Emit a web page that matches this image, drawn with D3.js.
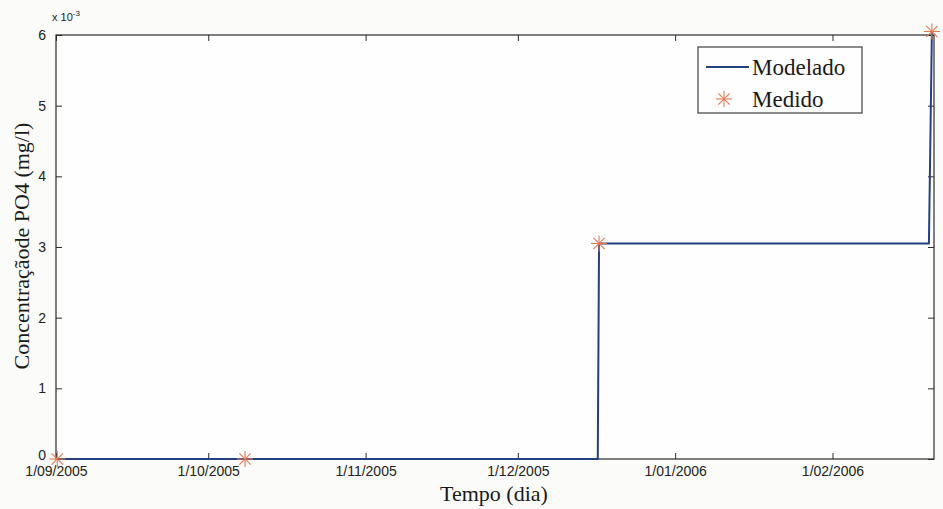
<!DOCTYPE html>
<html>
<head>
<meta charset="utf-8">
<script src="https://cdn.jsdelivr.net/npm/d3@7"></script>
<style>
  html, body { margin: 0; padding: 0; background: #fbfbf9; }
  svg { display: block; }
</style>
</head>
<body>
<svg id="chart" width="943" height="509"></svg>
<script>
// Modelled PO4 concentration (step series), mg/l
const modelDates  = ["2005-09-01T00:00", "2005-12-16T18:00", "2005-12-17T00:00", "2006-02-20T00:00", "2006-02-20T14:00"];
const modelValues = [0, 0, 3.05e-3, 3.05e-3, 6.05e-3];

// Measured PO4 concentration, mg/l
const measuredDates  = ["2005-09-01T06:00", "2005-10-08T06:00", "2005-12-17T00:00", "2006-02-20T14:00"];
const measuredValues = [0, 0, 3.05e-3, 6.05e-3];

// Axis ticks
const xTickDates  = ["2005-09-01", "2005-10-01", "2005-11-01", "2005-12-01", "2006-01-01", "2006-02-01"];
const xTickLabels = ["1/09/2005", "1/10/2005", "1/11/2005", "1/12/2005", "1/01/2006", "1/02/2006"];
const yTicks = [0, 1e-3, 2e-3, 3e-3, 4e-3, 5e-3, 6e-3];

const parse = d3.isoParse;
const svg = d3.select("#chart");

const plotLeft = 56, plotRight = 934, plotTop = 35, plotBottom = 459;

const x = d3.scaleTime()
  .domain([parse("2005-09-01T00:00"), parse("2006-02-21T00:00")])
  .range([plotLeft, plotRight]);
const y = d3.scaleLinear().domain([0, 6e-3]).range([plotBottom, plotTop]);

const axisColor = "#2b2b2b";
const modelColor = "#25407e";
const markColor = "#e27a55";

// Plot box
svg.append("rect")
  .attr("x", plotLeft).attr("y", plotTop)
  .attr("width", plotRight - plotLeft).attr("height", plotBottom - plotTop)
  .attr("fill", "#fefefe").attr("stroke", axisColor).attr("stroke-width", 1.2);

const tickFont = "'Liberation Sans', Arial, sans-serif";
const serif = "'Liberation Serif', 'Times New Roman', serif";

// Bottom axis (inward ticks)
const xAxis = d3.axisBottom(x)
  .tickValues(xTickDates.map(parse))
  .tickFormat((d, i) => xTickLabels[i])
  .tickSizeInner(-6).tickSizeOuter(0).tickPadding(7);
const gx = svg.append("g").attr("transform", `translate(0,${plotBottom})`).call(xAxis);
gx.select(".domain").remove();
gx.selectAll("line").attr("stroke", axisColor);
gx.selectAll("text").attr("font-family", tickFont).attr("font-size", 14).attr("fill", "#222");

// Top mirrored ticks
const gxt = svg.append("g").attr("transform", `translate(0,${plotTop})`)
  .call(d3.axisTop(x).tickValues(xTickDates.map(parse)).tickFormat("").tickSizeInner(-6).tickSizeOuter(0));
gxt.select(".domain").remove();
gxt.selectAll("line").attr("stroke", axisColor);

// Left axis
const yAxis = d3.axisLeft(y).tickValues(yTicks)
  .tickFormat(d => d3.format("d")(Math.round(d * 1000)))
  .tickSizeInner(-6).tickSizeOuter(0).tickPadding(10);
const gy = svg.append("g").attr("transform", `translate(${plotLeft},0)`).call(yAxis);
gy.select(".domain").remove();
gy.selectAll("line").attr("stroke", axisColor);
gy.selectAll("text").attr("font-family", tickFont).attr("font-size", 14).attr("fill", "#222");
// lift the zero label a touch so it clears the first date label
gy.selectAll("text").filter(d => d === 0).attr("dy", "0.05em");

// Right mirrored ticks
const gyr = svg.append("g").attr("transform", `translate(${plotRight},0)`)
  .call(d3.axisRight(y).tickValues(yTicks).tickFormat("").tickSizeInner(-6).tickSizeOuter(0));
gyr.select(".domain").remove();
gyr.selectAll("line").attr("stroke", axisColor);

// Exponent label
const expo = svg.append("text").attr("x", 52).attr("y", 21)
  .attr("font-family", tickFont).attr("font-size", 11).attr("fill", "#222");
expo.append("tspan").text("x 10");
expo.append("tspan").attr("dy", -5).attr("font-size", 8).text("-3");

// Modelled series
const model = modelDates.map((d, i) => ({ t: parse(d), v: modelValues[i] }));
svg.append("path")
  .datum(model)
  .attr("fill", "none")
  .attr("stroke", modelColor)
  .attr("stroke-width", 2)
  .attr("d", d3.line().x(d => x(d.t)).y(d => y(d.v)));

// Asterisk marker
function asterisk(g, cx, cy, r) {
  const angles = [0, 45, 90, 135];
  angles.forEach(a => {
    const rad = a * Math.PI / 180;
    g.append("line")
      .attr("x1", cx - r * Math.cos(rad)).attr("y1", cy - r * Math.sin(rad))
      .attr("x2", cx + r * Math.cos(rad)).attr("y2", cy + r * Math.sin(rad))
      .attr("stroke", markColor).attr("stroke-width", 1.1);
  });
}

const measured = measuredDates.map((d, i) => ({ t: parse(d), v: measuredValues[i] }));
const gm = svg.append("g");
measured.forEach(d => asterisk(gm, x(d.t), y(d.v), 8));

// Axis titles
svg.append("text")
  .attr("x", 494).attr("y", 501)
  .attr("text-anchor", "middle")
  .attr("font-family", serif).attr("font-size", 22).attr("fill", "#1a1a1a")
  .text("Tempo (dia)");

svg.append("text")
  .attr("transform", "translate(29,246) rotate(-90)")
  .attr("text-anchor", "middle")
  .attr("font-family", serif).attr("font-size", 22).attr("fill", "#1a1a1a")
  .text("Concentraçãode PO4 (mg/l)");

// Legend
const lg = svg.append("g");
lg.append("rect")
  .attr("x", 698).attr("y", 47).attr("width", 164).attr("height", 66)
  .attr("fill", "#fefefe").attr("stroke", "#3a3a3a").attr("stroke-width", 1.2);
lg.append("line")
  .attr("x1", 706).attr("x2", 749).attr("y1", 67).attr("y2", 67)
  .attr("stroke", modelColor).attr("stroke-width", 2);
asterisk(lg, 724, 99, 8);
lg.append("text").attr("x", 752).attr("y", 75)
  .attr("font-family", serif).attr("font-size", 23).attr("fill", "#1a1a1a").text("Modelado");
lg.append("text").attr("x", 752).attr("y", 107)
  .attr("font-family", serif).attr("font-size", 23).attr("fill", "#1a1a1a").text("Medido");
</script>
</body>
</html>
